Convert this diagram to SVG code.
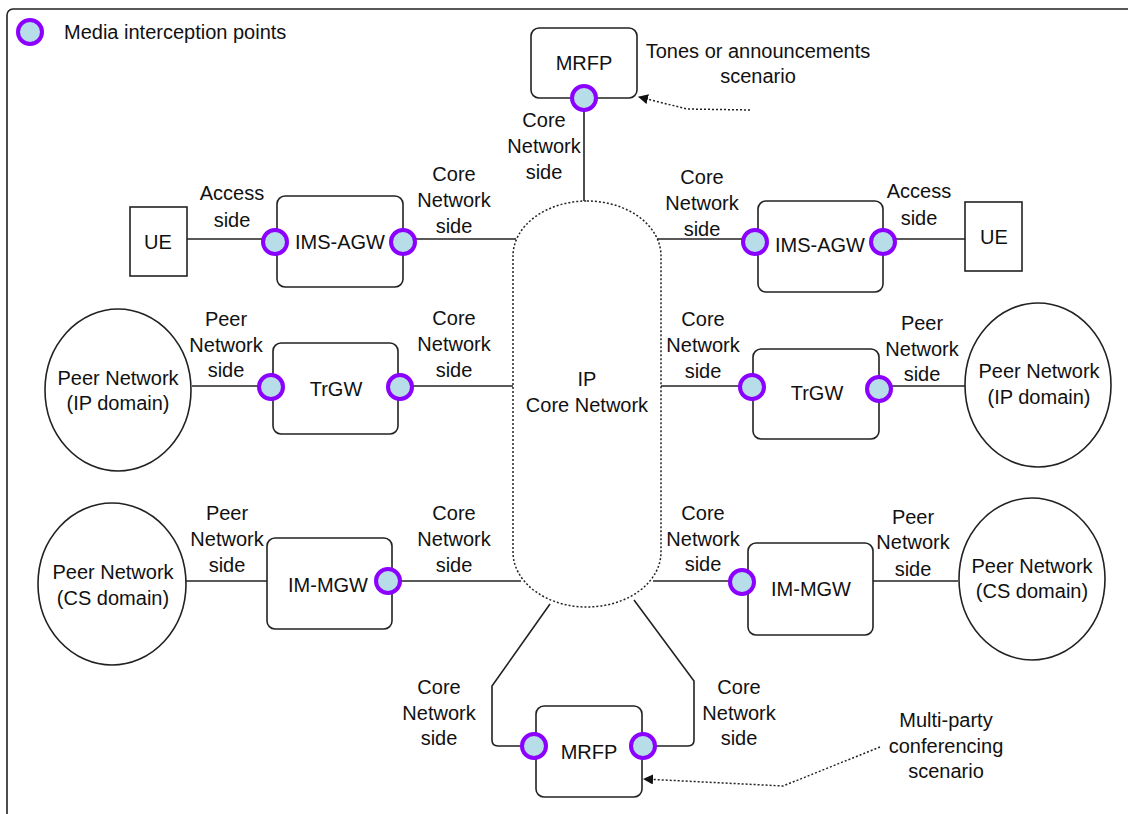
<svg xmlns="http://www.w3.org/2000/svg" width="1128" height="814" viewBox="0 0 1128 814">
<style>
text{font-family:"Liberation Sans",Arial,sans-serif;font-size:20px;fill:#111;text-anchor:middle}
.lg{text-anchor:start}
.box{fill:#fff;stroke:#222;stroke-width:1.6}
.sq{fill:#fff;stroke:#222;stroke-width:1.6}
.pt{fill:#b7dde8;stroke:#8b00ff;stroke-width:4}
.ln{fill:none;stroke:#222;stroke-width:1.6}
.dot{fill:none;stroke:#222;stroke-width:1.5;stroke-dasharray:2,2}
</style>
<defs>
<marker id="ah" viewBox="0 0 10 10" refX="9" refY="5" markerWidth="10" markerHeight="10" markerUnits="userSpaceOnUse" orient="auto">
<path d="M0,0 L10,5 L0,10 z" fill="#111"/>
</marker>
</defs>
<rect x="7" y="9" width="1140" height="830" rx="6" fill="#fff" stroke="#222" stroke-width="1.6"/>
<g id="legend">
<circle class="pt" cx="30" cy="32" r="12"/>
<text class="lg" x="64" y="39">Media interception points</text>
</g>
<g id="connectors">
<line class="ln" x1="584" y1="98" x2="584" y2="201"/>
<line class="ln" x1="187" y1="239" x2="275" y2="239"/>
<line class="ln" x1="403" y1="239" x2="516" y2="239"/>
<line class="ln" x1="657" y1="239" x2="755" y2="239"/>
<line class="ln" x1="883" y1="239" x2="965" y2="239"/>
<line class="ln" x1="192" y1="386" x2="271" y2="386"/>
<line class="ln" x1="400" y1="386" x2="513" y2="386"/>
<line class="ln" x1="661" y1="386" x2="752" y2="386"/>
<line class="ln" x1="879" y1="386" x2="965" y2="386"/>
<line class="ln" x1="186" y1="581" x2="267" y2="581"/>
<line class="ln" x1="388" y1="581" x2="521" y2="581"/>
<line class="ln" x1="653" y1="581" x2="742" y2="581"/>
<line class="ln" x1="873" y1="581" x2="958" y2="581"/>
<path class="ln" d="M550,604 L492,686 L492,740 Q492,746 498,746 L534,746"/>
<path class="ln" d="M634,600 L694,681 L694,740 Q694,746 688,746 L643,746"/>
<path class="dot" d="M750,110 L687,109 L639,97" marker-end="url(#ah)"/>
<path class="dot" d="M880,747 L783,786 L644,779" marker-end="url(#ah)"/>
</g>
<g id="ipcore">
<rect x="513" y="201" width="148" height="406" rx="74" ry="55" fill="none" stroke="#222" stroke-width="1.5" stroke-dasharray="2,2"/>
<text x="587" y="386">IP</text>
<text x="587" y="412">Core Network</text>
</g>
<g id="mrfp-top">
<rect class="box" x="531" y="28" width="106" height="70" rx="8"/>
<text x="584" y="70">MRFP</text>
<circle class="pt" cx="584" cy="98" r="12"/>
</g>
<g id="ue-left">
<rect class="sq" x="130" y="207" width="57" height="69"/>
<text x="158" y="249">UE</text>
</g>
<g id="imsagw-left">
<rect class="box" x="277" y="196" width="126" height="91" rx="8"/>
<text x="340" y="249">IMS-AGW</text>
<circle class="pt" cx="275" cy="242" r="12"/>
<circle class="pt" cx="403" cy="242" r="12"/>
</g>
<g id="imsagw-right">
<rect class="box" x="758" y="201" width="125" height="91" rx="8"/>
<text x="820" y="252">IMS-AGW</text>
<circle class="pt" cx="755" cy="242" r="12"/>
<circle class="pt" cx="883" cy="242" r="12"/>
</g>
<g id="ue-right">
<rect class="sq" x="965" y="202" width="57" height="69"/>
<text x="994" y="244">UE</text>
</g>
<g id="peer-ip-left">
<ellipse class="sq" cx="118" cy="390" rx="73" ry="81"/>
<text x="118" y="385">Peer Network</text>
<text x="118" y="410">(IP domain)</text>
</g>
<g id="trgw-left">
<rect class="box" x="273" y="343" width="125" height="91" rx="8"/>
<text x="336" y="396">TrGW</text>
<circle class="pt" cx="271" cy="387" r="12"/>
<circle class="pt" cx="400" cy="387" r="12"/>
</g>
<g id="trgw-right">
<rect class="box" x="753" y="349" width="126" height="90" rx="8"/>
<text x="817" y="400">TrGW</text>
<circle class="pt" cx="752" cy="387" r="12"/>
<circle class="pt" cx="879" cy="389" r="12"/>
</g>
<g id="peer-ip-right">
<ellipse class="sq" cx="1038" cy="385" rx="73" ry="82"/>
<text x="1039" y="378">Peer Network</text>
<text x="1039" y="404">(IP domain)</text>
</g>
<g id="peer-cs-left">
<ellipse class="sq" cx="112" cy="584" rx="74" ry="81"/>
<text x="113" y="579">Peer Network</text>
<text x="113" y="605">(CS domain)</text>
</g>
<g id="immgw-left">
<rect class="box" x="267" y="538" width="125" height="91" rx="8"/>
<text x="328" y="592">IM-MGW</text>
<circle class="pt" cx="388" cy="581" r="12"/>
</g>
<g id="immgw-right">
<rect class="box" x="748" y="543" width="125" height="92" rx="8"/>
<text x="811" y="596">IM-MGW</text>
<circle class="pt" cx="742" cy="582" r="12"/>
</g>
<g id="peer-cs-right">
<ellipse class="sq" cx="1032" cy="579" rx="73" ry="81"/>
<text x="1032" y="573">Peer Network</text>
<text x="1032" y="598">(CS domain)</text>
</g>
<g id="mrfp-bottom">
<rect class="box" x="536" y="706" width="106" height="91" rx="8"/>
<text x="589" y="759">MRFP</text>
<circle class="pt" cx="534" cy="746" r="12"/>
<circle class="pt" cx="643" cy="746" r="12"/>
</g>
<g id="labels">
<text x="758" y="58">Tones or announcements</text>
<text x="758" y="83">scenario</text>
<text x="544" y="127">Core</text><text x="544" y="153">Network</text><text x="544" y="179">side</text>
<text x="232" y="200">Access</text><text x="232" y="227">side</text>
<text x="454" y="181">Core</text><text x="454" y="207">Network</text><text x="454" y="233">side</text>
<text x="702" y="184">Core</text><text x="702" y="210">Network</text><text x="702" y="236">side</text>
<text x="919" y="198">Access</text><text x="919" y="225">side</text>
<text x="226" y="326">Peer</text><text x="226" y="352">Network</text><text x="226" y="377">side</text>
<text x="454" y="325">Core</text><text x="454" y="351">Network</text><text x="454" y="377">side</text>
<text x="703" y="326">Core</text><text x="703" y="352">Network</text><text x="703" y="378">side</text>
<text x="922" y="330">Peer</text><text x="922" y="356">Network</text><text x="922" y="381">side</text>
<text x="227" y="520">Peer</text><text x="227" y="546">Network</text><text x="227" y="572">side</text>
<text x="454" y="520">Core</text><text x="454" y="546">Network</text><text x="454" y="572">side</text>
<text x="703" y="520">Core</text><text x="703" y="546">Network</text><text x="703" y="571">side</text>
<text x="913" y="524">Peer</text><text x="913" y="549">Network</text><text x="913" y="576">side</text>
<text x="439" y="694">Core</text><text x="439" y="720">Network</text><text x="439" y="745">side</text>
<text x="739" y="694">Core</text><text x="739" y="720">Network</text><text x="739" y="745">side</text>
<text x="946" y="727">Multi-party</text>
<text x="946" y="753">conferencing</text>
<text x="946" y="778">scenario</text>
</g>
</svg>
